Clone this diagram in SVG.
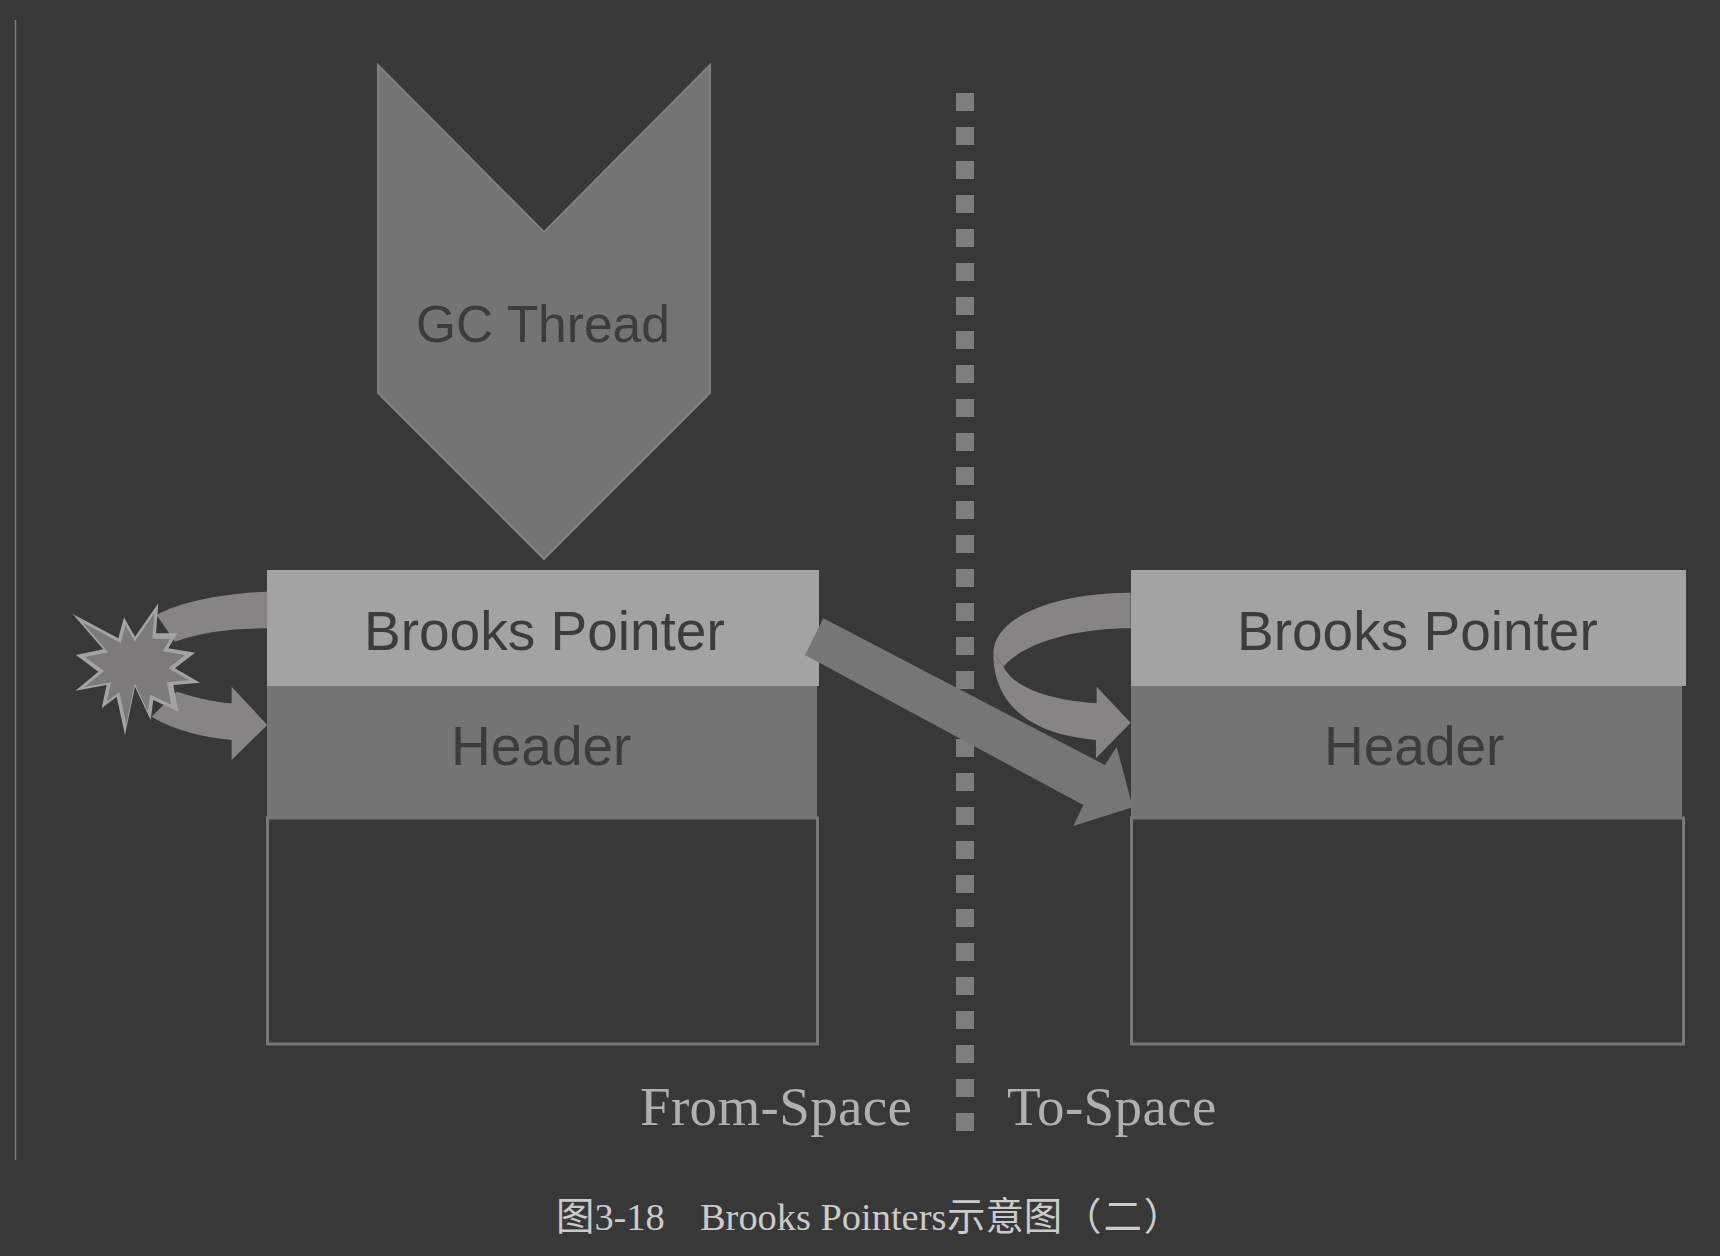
<svg xmlns="http://www.w3.org/2000/svg" width="1720" height="1256" viewBox="0 0 1720 1256">
<style>
.sans{font-family:"Liberation Sans",Arial,sans-serif;fill:#3c3c3c}
.b{font-size:55px}
.serif{font-family:"Liberation Serif","Noto Sans CJK SC",serif}
.space{font-size:55px;fill:#b0b0b0;letter-spacing:.35px}
.cap{font-size:38.400px;fill:#cbcbcb}
.ptr{fill:#a3a3a3}
.hdr{fill:#747472}
.body{fill:none;stroke:#787878;stroke-width:3}
.arrow{fill:#868583}
.dots rect{fill:#7d7d7d;width:18px;height:18px}
</style>
<defs><polygon id="star" points="218,222 355,295 372,232 405,290 475,190 468,280 532,280 505,325 585,338 525,385 600,428 520,435 535,515 460,480 452,540 405,440 375,585 350,470 305,505 320,435 226,452 295,395 228,345 310,328"/></defs>
<rect width="1720" height="1256" fill="#383838"/>
<line x1="15.5" y1="20" x2="15.5" y2="1160" stroke="#7c7c7c" stroke-width="1.5"/>
<g id="divider" class="dots"><rect x="956" y="93"/><rect x="956" y="127"/><rect x="956" y="161"/><rect x="956" y="195"/><rect x="956" y="229"/><rect x="956" y="263"/><rect x="956" y="297"/><rect x="956" y="331"/><rect x="956" y="365"/><rect x="956" y="399"/><rect x="956" y="433"/><rect x="956" y="467"/><rect x="956" y="501"/><rect x="956" y="535"/><rect x="956" y="569"/><rect x="956" y="603"/><rect x="956" y="637"/><rect x="956" y="671"/><rect x="956" y="705"/><rect x="956" y="739"/><rect x="956" y="773"/><rect x="956" y="807"/><rect x="956" y="841"/><rect x="956" y="875"/><rect x="956" y="909"/><rect x="956" y="943"/><rect x="956" y="977"/><rect x="956" y="1011"/><rect x="956" y="1045"/><rect x="956" y="1079"/><rect x="956" y="1113"/></g>
<g id="gc-thread"><polygon points="378,65 544,232 710,65 710,393 544,559 378,393" fill="#747472" stroke="#7f7f7f" stroke-width="2"/><text class="sans" x="416" y="342" font-size="51.500">GC Thread</text></g>
<g id="from-object">
<rect class="body" x="267.500" y="818" width="550" height="226"/>
<rect class="ptr" x="267" y="570" width="552" height="116"/>
<rect class="hdr" x="267" y="686" width="550" height="133"/>
<text class="sans b" x="364" y="650">Brooks Pointer</text>
<text class="sans b" x="451" y="765">Header</text>
</g>
<g id="to-object">
<rect class="body" x="1131.500" y="818" width="552" height="226"/>
<rect class="ptr" x="1131" y="570" width="555" height="116"/>
<rect class="hdr" x="1131" y="686" width="551" height="133"/>
<text class="sans b" x="1237" y="650">Brooks Pointer</text>
<text class="sans b" x="1324" y="765">Header</text>
</g>
<g id="connectors">
<g transform="translate(0 540) scale(.3333)">
<path class="arrow" d="M802,155C670,160 540,185 470,225L525,305C610,275 700,265 802,265Z"/>
<path class="arrow" d="M455,530C530,575 610,590 695,600L695,660L802,555L695,440L695,490C630,485 580,470 530,455Z"/>
</g>
<g transform="translate(780 540) scale(.3333)">
<path class="arrow" d="M1052,158C800,160 640,240 640,340L670,380C730,310 880,265 1052,265Z"/>
<path class="arrow" d="M640,340C640,470 720,580 948,600L948,655L1052,548L950,440L950,490C800,480 700,440 670,380Z"/>
<polygon points="130,235 975,675 1010,620 1058,802 880,858 910,795 75,345" fill="#767674"/>
</g>
</g>
<g id="burst" transform="translate(0 540) scale(.3333)">
<use href="#star" fill="#a3a3a3"/>
<use href="#star" fill="#7c7b7a" transform="translate(400 382) scale(.84) translate(-400 -382)"/>
</g>
<g id="labels">
<text class="serif space" x="640" y="1125">From-Space</text>
<text class="serif space" x="1007" y="1125">To-Space</text>
<text class="serif cap" x="556" y="1230">图3-18　<tspan x="700">Brooks Pointers</tspan><tspan x="947">示意图</tspan><tspan x="1063" letter-spacing="2">（二）</tspan></text>
</g>
</svg>
